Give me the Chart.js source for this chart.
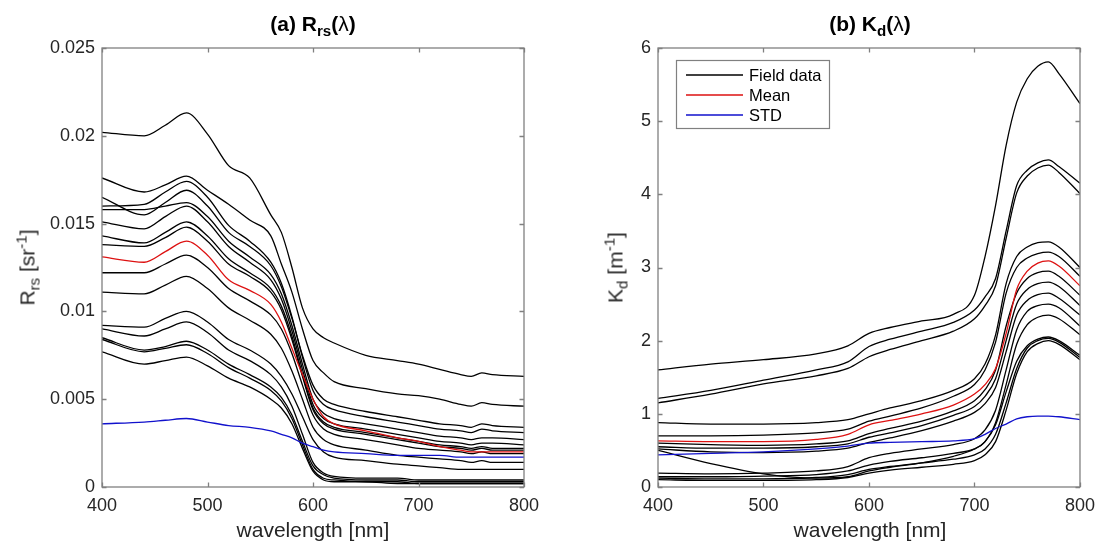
<!DOCTYPE html>
<html lang="en">
<head>
    <meta charset="UTF-8">
    <title>Rrs and Kd spectra</title>
    <script src="https://cdn.jsdelivr.net/npm/chart.js"></script>
    <style>
        body { margin: 0; background: #fff; }
        #fig {
            position: relative;
            width: 1103px;
            height: 546px;
            font-family: "Liberation Sans", Arial, sans-serif;
            color: #262626;
        }
        .panel { position: absolute; top: 0; }
        .lbl {
            position: absolute;
            text-align: center;
            font-size: 21px;
            line-height: 21px;
            height: 21px;
            white-space: nowrap;
        }
        .ttl { font-weight: bold; color: #000; }
        .ylab { transform: rotate(-90deg); transform-origin: 50% 50%; }
        sub { font-size: 0.72em; vertical-align: -0.32em; line-height: 0; }
        sup { font-size: 0.72em; vertical-align: 0.5em; line-height: 0; }
    </style>
</head>
<body>
<div id="fig">
    <div class="panel" style="left:0"><canvas id="rrsChart" width="551" height="546"></canvas></div>
    <div class="panel" style="left:551px"><canvas id="kdChart" width="552" height="546"></canvas></div>

    <div class="lbl ttl" style="left:213px; top:13px; width:200px">(a) R<sub>rs</sub>(<span style="font-weight:normal">λ</span>)</div>
    <div class="lbl ttl" style="left:770px; top:13px; width:200px">(b) K<sub>d</sub>(<span style="font-weight:normal">λ</span>)</div>

    <div class="lbl" style="left:213px; top:519px; width:200px">wavelength [nm]</div>
    <div class="lbl" style="left:770px; top:519px; width:200px">wavelength [nm]</div>

    <div class="lbl ylab" style="left:-123px; top:257px; width:300px">R<sub>rs</sub> [sr<sup>-1</sup>]</div>
    <div class="lbl ylab" style="left:465px; top:257px; width:300px">K<sub>d</sub> [m<sup>-1</sup>]</div>
</div>

<script>
    // ---- panel (a): Rrs ----
    const rrsWavelength = [400, 440, 460, 480, 500, 520, 540, 560, 570, 580, 590, 600, 610, 620, 650, 680, 700, 720, 740, 750, 760, 770, 800];

    const rrs1  = [0.0202, 0.0200, 0.0206, 0.0213, 0.0201, 0.0183, 0.0176, 0.0155, 0.0145, 0.0125, 0.0102, 0.0090, 0.0085, 0.0082, 0.0075, 0.0072, 0.0070, 0.0067, 0.0064, 0.0063, 0.0065, 0.0064, 0.0063];
    const rrs2  = [0.0176, 0.0168, 0.0172, 0.0177, 0.0169, 0.0161, 0.0152, 0.0143, 0.0127, 0.0111, 0.0090, 0.0072, 0.0065, 0.0060, 0.0056, 0.0053, 0.0052, 0.0050, 0.0047, 0.0046, 0.0048, 0.0047, 0.0046];
    const rrs3  = [0.0165, 0.0155, 0.0162, 0.0169, 0.0160, 0.0145, 0.0137, 0.0126, 0.0114, 0.0096, 0.0075, 0.0058, 0.0050, 0.0047, 0.0043, 0.0040, 0.0038, 0.0036, 0.0035, 0.0034, 0.0036, 0.0035, 0.0034];
    const rrs4  = [0.0160, 0.0161, 0.0168, 0.0174, 0.0165, 0.0149, 0.0140, 0.0128, 0.0116, 0.0097, 0.0074, 0.0055, 0.0047, 0.0044, 0.0040, 0.0037, 0.0035, 0.0033, 0.0032, 0.0031, 0.0033, 0.0032, 0.0031];
    const rrs5  = [0.0158, 0.0158, 0.0160, 0.0162, 0.0154, 0.0140, 0.0131, 0.0121, 0.0110, 0.0092, 0.0070, 0.0050, 0.0042, 0.0039, 0.0036, 0.0033, 0.0031, 0.0029, 0.0028, 0.0027, 0.0028, 0.0028, 0.0027];
    const rrs6  = [0.0151, 0.0147, 0.0154, 0.0160, 0.0151, 0.0137, 0.0128, 0.0118, 0.0107, 0.0089, 0.0067, 0.0047, 0.0039, 0.0036, 0.0033, 0.0030, 0.0028, 0.0026, 0.0025, 0.0024, 0.0025, 0.0025, 0.0024];
    const rrs7  = [0.0143, 0.0139, 0.0145, 0.0151, 0.0143, 0.0130, 0.0122, 0.0113, 0.0103, 0.0086, 0.0064, 0.0045, 0.0037, 0.0034, 0.0031, 0.0028, 0.0026, 0.0024, 0.0023, 0.0022, 0.0023, 0.0022, 0.0022];
    const rrs8  = [0.0138, 0.0137, 0.0142, 0.0148, 0.0140, 0.0127, 0.0120, 0.0111, 0.0101, 0.0084, 0.0063, 0.0044, 0.0036, 0.0033, 0.0030, 0.0027, 0.0025, 0.0023, 0.0022, 0.0021, 0.0022, 0.0021, 0.0021];
    const rrs9  = [0.0122, 0.0122, 0.0127, 0.0132, 0.0125, 0.0113, 0.0106, 0.0098, 0.0090, 0.0076, 0.0058, 0.0041, 0.0033, 0.0030, 0.0027, 0.0024, 0.0022, 0.0021, 0.0020, 0.0019, 0.0020, 0.0019, 0.0019];
    const rrs10 = [0.0111, 0.0110, 0.0115, 0.0120, 0.0113, 0.0102, 0.0095, 0.0087, 0.0079, 0.0066, 0.0050, 0.0034, 0.0027, 0.0024, 0.0021, 0.0018, 0.0017, 0.0016, 0.0015, 0.0014, 0.0015, 0.0014, 0.0014];
    const rrs11 = [0.0092, 0.0091, 0.0096, 0.0100, 0.0094, 0.0084, 0.0078, 0.0070, 0.0063, 0.0053, 0.0040, 0.0027, 0.0020, 0.0017, 0.0015, 0.0013, 0.0012, 0.0011, 0.0010, 0.0010, 0.0010, 0.0010, 0.0010];
    const rrs12 = [0.0090, 0.0086, 0.0090, 0.0094, 0.0088, 0.0078, 0.0072, 0.0064, 0.0057, 0.0046, 0.0030, 0.0014, 0.0008, 0.0006, 0.0005, 0.0005, 0.0004, 0.0004, 0.0004, 0.0004, 0.0004, 0.0004, 0.0004];
    const rrs13 = [0.0085, 0.0078, 0.0080, 0.0083, 0.0078, 0.0070, 0.0064, 0.0057, 0.0051, 0.0041, 0.0026, 0.0012, 0.0007, 0.0005, 0.0004, 0.0004, 0.0003, 0.0003, 0.0003, 0.0003, 0.0003, 0.0003, 0.0003];
    const rrs14 = [0.0084, 0.0077, 0.0079, 0.0081, 0.0076, 0.0068, 0.0062, 0.0055, 0.0049, 0.0039, 0.0024, 0.0010, 0.0005, 0.0004, 0.0003, 0.0003, 0.0002, 0.0002, 0.0002, 0.0002, 0.0002, 0.0002, 0.0002];
    const rrs15 = [0.0077, 0.0070, 0.0072, 0.0074, 0.0069, 0.0062, 0.0057, 0.0050, 0.0045, 0.0036, 0.0022, 0.0009, 0.0004, 0.0003, 0.0003, 0.0002, 0.0002, 0.0002, 0.0002, 0.0002, 0.0002, 0.0002, 0.0002];

    const rrsMean = [0.0131, 0.0128, 0.0134, 0.0140, 0.0132, 0.0118, 0.0112, 0.0104, 0.0094, 0.0079, 0.0064, 0.0050, 0.0040, 0.0036, 0.0032, 0.0028, 0.0026, 0.0023, 0.0021, 0.0020, 0.0020, 0.0020, 0.0020];
    const rrsStd  = [0.0036, 0.0037, 0.0038, 0.0039, 0.0037, 0.0035, 0.0034, 0.0032, 0.0030, 0.0028, 0.0025, 0.0023, 0.0021, 0.0020, 0.0019, 0.0018, 0.0018, 0.0018, 0.0017, 0.0017, 0.0017, 0.0017, 0.0017];

    const rrsYTicks = [0, 0.005, 0.01, 0.015, 0.02, 0.025];
    const rrsYTickLabels = ['0', '0.005', '0.01', '0.015', '0.02', '0.025'];

    // ---- panel (b): Kd ----
    const kdWavelength = [400, 450, 500, 550, 580, 600, 620, 650, 680, 700, 710, 720, 730, 740, 750, 760, 770, 780, 800];

    const kd1  = [1.60, 1.68, 1.74, 1.82, 1.93, 2.10, 2.18, 2.27, 2.36, 2.62, 3.15, 3.85, 4.67, 5.26, 5.58, 5.75, 5.81, 5.65, 5.24];
    const kd2  = [1.21, 1.32, 1.46, 1.60, 1.71, 1.92, 2.02, 2.13, 2.25, 2.42, 2.60, 2.85, 3.50, 4.12, 4.33, 4.43, 4.47, 4.38, 4.15];
    const kd3  = [1.15, 1.27, 1.41, 1.52, 1.62, 1.78, 1.88, 2.00, 2.13, 2.30, 2.48, 2.75, 3.40, 4.02, 4.25, 4.36, 4.40, 4.30, 4.01];
    const kd4  = [0.88, 0.86, 0.86, 0.88, 0.92, 1.00, 1.08, 1.18, 1.32, 1.48, 1.68, 2.08, 2.78, 3.15, 3.28, 3.34, 3.35, 3.28, 3.00];
    const kd5  = [0.70, 0.70, 0.71, 0.74, 0.79, 0.90, 0.97, 1.08, 1.24, 1.40, 1.60, 1.98, 2.65, 3.00, 3.13, 3.19, 3.21, 3.15, 2.88];
    const kd6  = [0.60, 0.58, 0.57, 0.59, 0.63, 0.73, 0.80, 0.90, 1.04, 1.18, 1.33, 1.60, 2.20, 2.65, 2.85, 2.93, 2.95, 2.88, 2.62];
    const kd7  = [0.55, 0.53, 0.53, 0.55, 0.59, 0.68, 0.74, 0.84, 0.98, 1.10, 1.24, 1.48, 2.00, 2.50, 2.70, 2.78, 2.80, 2.74, 2.48];
    const kd8  = [0.52, 0.48, 0.47, 0.49, 0.53, 0.61, 0.67, 0.77, 0.90, 1.02, 1.14, 1.36, 1.85, 2.35, 2.55, 2.63, 2.65, 2.58, 2.35];
    const kd9  = [0.50, 0.32, 0.18, 0.12, 0.14, 0.22, 0.27, 0.33, 0.42, 0.52, 0.62, 0.85, 1.30, 1.72, 1.93, 2.02, 2.05, 2.00, 1.80];
    const kd10 = [0.19, 0.18, 0.19, 0.22, 0.28, 0.40, 0.46, 0.52, 0.58, 0.66, 0.78, 1.05, 1.60, 2.15, 2.40, 2.48, 2.50, 2.45, 2.20];
    const kd11 = [0.14, 0.14, 0.15, 0.17, 0.22, 0.30, 0.35, 0.40, 0.46, 0.52, 0.62, 0.88, 1.40, 1.95, 2.22, 2.32, 2.35, 2.30, 2.08];
    const kd12 = [0.12, 0.11, 0.11, 0.13, 0.17, 0.24, 0.28, 0.33, 0.38, 0.44, 0.52, 0.72, 1.15, 1.62, 1.90, 2.00, 2.03, 1.98, 1.77];
    const kd13 = [0.10, 0.09, 0.09, 0.10, 0.13, 0.19, 0.23, 0.27, 0.31, 0.36, 0.44, 0.62, 1.05, 1.55, 1.85, 1.96, 2.00, 1.95, 1.74];

    const kdMean = [0.63, 0.62, 0.62, 0.65, 0.72, 0.85, 0.91, 1.00, 1.12, 1.27, 1.40, 1.62, 2.10, 2.70, 2.95, 3.06, 3.09, 3.02, 2.75];
    const kdStd  = [0.44, 0.46, 0.48, 0.52, 0.56, 0.60, 0.61, 0.62, 0.63, 0.66, 0.72, 0.80, 0.86, 0.93, 0.96, 0.97, 0.97, 0.96, 0.92];

    const kdYTicks = [0, 1, 2, 3, 4, 5, 6];
    const kdYTickLabels = ['0', '1', '2', '3', '4', '5', '6'];

    const xTicks = [400, 500, 600, 700, 800];
    const xTickLabels = ['400', '500', '600', '700', '800'];

    const legendLabels = ['Field data', 'Mean', 'STD'];

    const FIELD_COLOR = '#000000';
    const MEAN_COLOR = '#dd1111';
    const STD_COLOR = '#1111cc';
    const AXIS_COLOR = '#808080';
    const TEXT_COLOR = '#262626';
    const TICK_LEN = 4.5;

    // MATLAB-like box with inward ticks on all four sides
    const matlabBox = {
        id: 'matlabBox',
        afterDatasetsDraw(chart) {
            const { ctx, chartArea: a, scales: { x, y } } = chart;
            ctx.save();
            ctx.strokeStyle = AXIS_COLOR;
            ctx.lineWidth = 1.3;
            ctx.beginPath();
            x.ticks.forEach(t => {
                const px = Math.round(x.getPixelForValue(t.value)) + 0.5;
                ctx.moveTo(px, a.bottom); ctx.lineTo(px, a.bottom - TICK_LEN);
                ctx.moveTo(px, a.top); ctx.lineTo(px, a.top + TICK_LEN);
            });
            y.ticks.forEach(t => {
                const py = Math.round(y.getPixelForValue(t.value)) + 0.5;
                ctx.moveTo(a.left, py); ctx.lineTo(a.left + TICK_LEN, py);
                ctx.moveTo(a.right, py); ctx.lineTo(a.right - TICK_LEN, py);
            });
            ctx.stroke();
            ctx.strokeRect(a.left, a.top, a.right - a.left, a.bottom - a.top);
            ctx.restore();
        }
    };

    // legend box in the upper left corner of panel (b)
    const boxLegend = {
        id: 'boxLegend',
        afterDraw(chart) {
            const { ctx, chartArea: a } = chart;
            const colors = [FIELD_COLOR, MEAN_COLOR, STD_COLOR];
            const left = a.left + 18, top = a.top + 12;
            ctx.save();
            ctx.fillStyle = '#fff';
            ctx.fillRect(left, top, 154, 69);
            ctx.strokeStyle = AXIS_COLOR;
            ctx.lineWidth = 1.2;
            ctx.strokeRect(left + 0.5, top + 0.5, 153, 68);
            ctx.font = '16.5px "Liberation Sans", Arial, sans-serif';
            ctx.textBaseline = 'middle';
            legendLabels.forEach((text, i) => {
                const yy = top + 15 + i * 20;
                ctx.strokeStyle = colors[i];
                ctx.lineWidth = 1.4;
                ctx.beginPath();
                ctx.moveTo(left + 10, yy);
                ctx.lineTo(left + 67, yy);
                ctx.stroke();
                ctx.fillStyle = '#000';
                ctx.fillText(text, left + 73, yy + 1);
            });
            ctx.restore();
        }
    };

    function toPoints(wl, values) {
        return values.map((v, i) => ({ x: wl[i], y: v }));
    }

    function buildDatasets(wl, field, mean, std) {
        const common = { borderWidth: 1.3, pointRadius: 0, cubicInterpolationMode: 'monotone', fill: false };
        return [
            { label: 'Mean', data: toPoints(wl, mean), borderColor: MEAN_COLOR, ...common },
            { label: 'STD', data: toPoints(wl, std), borderColor: STD_COLOR, ...common },
            ...field.map(f => ({ label: 'Field data', data: toPoints(wl, f), borderColor: FIELD_COLOR, ...common }))
        ];
    }

    function createPanel(canvasId, wl, field, mean, std, yMax, yTicks, yTickLabels, axisWidth, padRight, extraPlugins) {
        const tickFont = { family: '"Liberation Sans", Arial, sans-serif', size: 18 };
        return new Chart(document.getElementById(canvasId), {
            type: 'line',
            data: { datasets: buildDatasets(wl, field, mean, std) },
            plugins: [matlabBox, ...extraPlugins],
            options: {
                responsive: false,
                animation: false,
                layout: { padding: { top: 48, right: padRight, bottom: 0, left: 0 } },
                plugins: { legend: { display: false }, tooltip: { enabled: false } },
                scales: {
                    x: {
                        type: 'linear', min: 400, max: 800,
                        afterBuildTicks: s => { s.ticks = xTicks.map(v => ({ value: v })); },
                        afterFit: s => { s.height = 59; },
                        grid: { display: false, drawTicks: false },
                        border: { display: false },
                        ticks: { callback: (v, i) => xTickLabels[i], font: tickFont, color: TEXT_COLOR, padding: 8, maxRotation: 0, autoSkip: false }
                    },
                    y: {
                        type: 'linear', min: 0, max: yMax,
                        afterBuildTicks: s => { s.ticks = yTicks.map(v => ({ value: v })); },
                        afterFit: s => { s.width = axisWidth; },
                        grid: { display: false, drawTicks: false },
                        border: { display: false },
                        ticks: { callback: (v, i) => yTickLabels[i], font: tickFont, color: TEXT_COLOR, padding: 7, autoSkip: false }
                    }
                }
            }
        });
    }

    createPanel('rrsChart', rrsWavelength,
        [rrs1, rrs2, rrs3, rrs4, rrs5, rrs6, rrs7, rrs8, rrs9, rrs10, rrs11, rrs12, rrs13, rrs14, rrs15],
        rrsMean, rrsStd, 0.025, rrsYTicks, rrsYTickLabels, 102, 27, []);

    createPanel('kdChart', kdWavelength,
        [kd1, kd2, kd3, kd4, kd5, kd6, kd7, kd8, kd9, kd10, kd11, kd12, kd13],
        kdMean, kdStd, 6, kdYTicks, kdYTickLabels, 107, 22, [boxLegend]);
</script>
</body>
</html>
